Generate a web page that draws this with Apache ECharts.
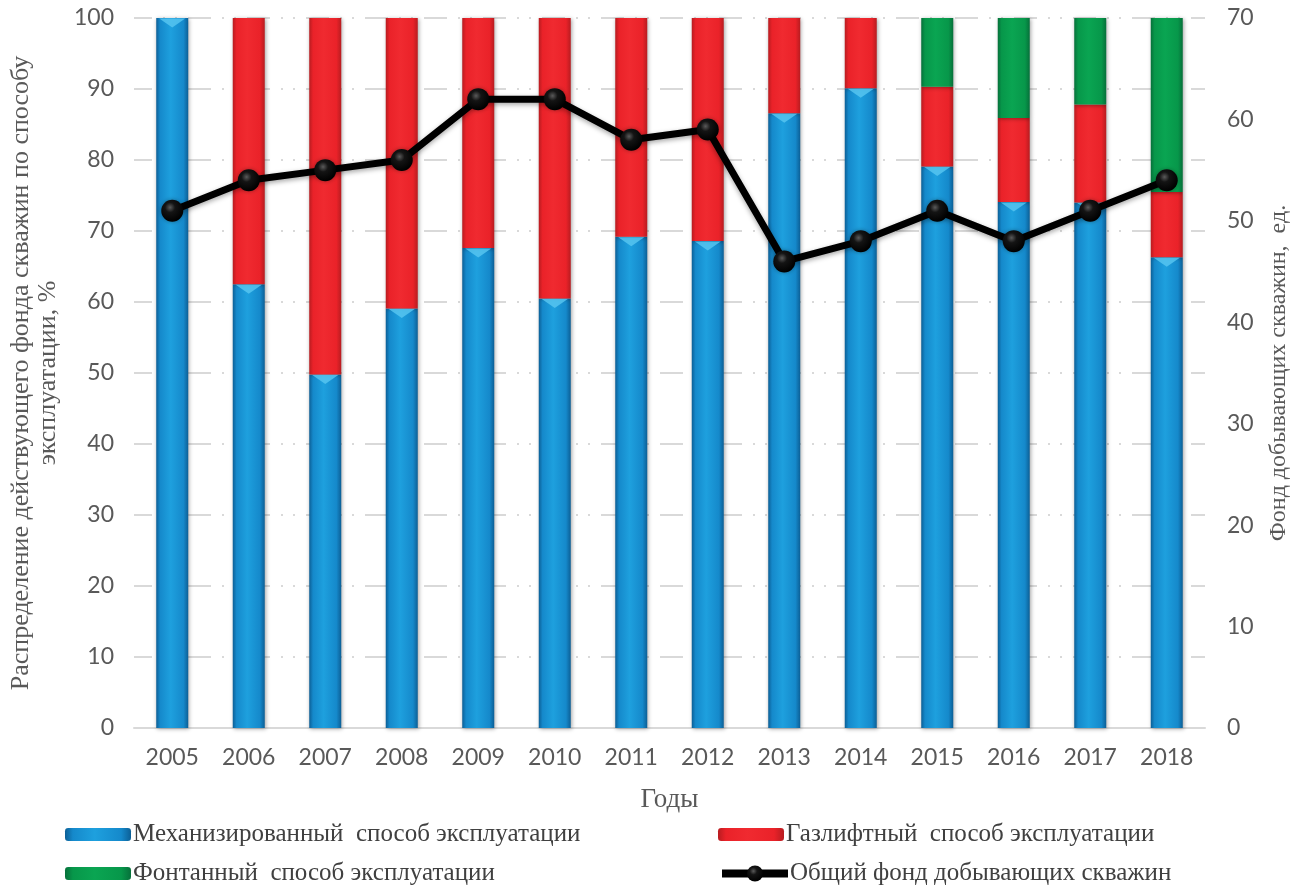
<!DOCTYPE html>
<html>
<head>
<meta charset="utf-8">
<script src="https://cdn.jsdelivr.net/npm/echarts@6/dist/echarts.min.js"></script>
<style>
  html, body { margin: 0; padding: 0; background: #ffffff; }
  #chart { width: 1301px; height: 890px; }
</style>
</head>
<body>
<div id="chart"></div>
<script>
// Years on the category axis
const years = ['2005','2006','2007','2008','2009','2010','2011','2012','2013','2014','2015','2016','2017','2018'];

// Share of the active well stock by production method, %
const mechanized = [100, 62.5, 49.8, 59.1, 67.6, 60.5, 69.2, 68.6, 86.6, 90.1, 79.1, 74.1, 74.0, 66.3];
const gasLift    = [0, 37.5, 50.2, 40.9, 32.4, 39.5, 30.8, 31.4, 13.4, 9.9, 11.2, 11.8, 13.8, 9.2];
const flowing    = [0, 0, 0, 0, 0, 0, 0, 0, 0, 0, 9.7, 14.1, 12.2, 24.5];

// Total producing well stock, units
const totalWells = [51, 54, 55, 56, 62, 62, 58, 59, 46, 48, 51, 48, 51, 54];

// Axis tick values
const leftTicks = { min: 0, max: 100, interval: 10 };
const rightTicks = { min: 0, max: 70, interval: 10 };

const names = {
  mech: 'Механизированный  способ эксплуатации',
  gas: 'Газлифтный  способ эксплуатации',
  flow: 'Фонтанный  способ эксплуатации',
  total: 'Общий фонд добывающих скважин'
};

// Bevelled bar fill: darker edges, lighter centre
function bevel(edge, mid, light) {
  return new echarts.graphic.LinearGradient(0, 0, 1, 0, [
    { offset: 0, color: edge },
    { offset: 0.12, color: mid },
    { offset: 0.45, color: light },
    { offset: 0.85, color: mid },
    { offset: 1, color: edge }
  ]);
}
const blueFill = bevel('#0c5f96', '#1589cb', '#1ea0de');
const redFill = bevel('#b81c20', '#ea2229', '#f02a30');
const greenFill = bevel('#06703a', '#07974a', '#0aa552');

const barShadow = {
  shadowColor: 'rgba(0,0,0,0.35)',
  shadowBlur: 4,
  shadowOffsetX: 1,
  shadowOffsetY: 1
};

const tickFont = { fontFamily: 'Lato', fontSize: 23, color: '#595959' };
const serif = 'Liberation Serif';
const legendFont = { fontFamily: serif, fontSize: 25, color: '#404040' };

const chart = echarts.init(document.getElementById('chart'), null, { renderer: 'canvas' });

function legendAt(name, left, top, w, h) {
  return {
    data: [name], left: left, top: top, itemWidth: w, itemHeight: h,
    itemGap: 0, padding: 0, textStyle: Object.assign({ padding: [0, 0, 0, -3] }, legendFont),
    lineStyle: { width: 8 },
    selectedMode: false
  };
}

chart.setOption({
  animation: false,
  backgroundColor: '#ffffff',
  grid: { left: 131, right: 96, top: 18, bottom: 162 },
  legend: [
    legendAt(names.mech, 65, 822, 66, 13),
    legendAt(names.gas, 718, 822, 66, 13),
    legendAt(names.flow, 65, 861, 66, 13),
    legendAt(names.total, 718, 861, 66, 20)
  ],
  xAxis: {
    type: 'category',
    data: years,
    name: 'Годы',
    nameLocation: 'middle',
    nameGap: 58,
    nameTextStyle: { fontFamily: serif, fontSize: 27, color: '#595959' },
    axisLine: { lineStyle: { color: '#d9d9d9', width: 2 } },
    axisTick: { show: false },
    axisLabel: Object.assign({ margin: 18 }, tickFont)
  },
  yAxis: [
    {
      type: 'value',
      min: leftTicks.min, max: leftTicks.max, interval: leftTicks.interval,
      name: 'Распределение действующего фонда скважин по способу\nэксплуатации, %',
      nameLocation: 'middle',
      nameGap: 72,
      nameTextStyle: { fontFamily: serif, fontSize: 26, color: '#595959', lineHeight: 27 },
      axisLine: { show: false },
      axisTick: { show: false },
      axisLabel: Object.assign({ margin: 20 }, tickFont),
      splitLine: {
        lineStyle: { color: '#d9d9d9', width: 2, type: [23, 11, 2, 10, 2, 11], dashOffset: 5 }
      }
    },
    {
      type: 'value',
      min: rightTicks.min, max: rightTicks.max, interval: rightTicks.interval,
      name: 'Фонд добывающих скважин,  ед.',
      nameLocation: 'middle',
      nameGap: 62,
      nameTextStyle: { fontFamily: serif, fontSize: 24, color: '#595959' },
      axisLine: { show: false },
      axisTick: { show: false },
      axisLabel: Object.assign({ margin: 22 }, tickFont),
      splitLine: { show: false }
    }
  ],
  series: [
    {
      name: names.mech, type: 'bar', stack: 'share', barWidth: 32,
      data: mechanized,
      itemStyle: Object.assign({ color: blueFill }, barShadow)
    },
    {
      name: names.gas, type: 'bar', stack: 'share', barWidth: 32,
      data: gasLift,
      itemStyle: Object.assign({ color: redFill }, barShadow)
    },
    {
      name: names.flow, type: 'bar', stack: 'share', barWidth: 32,
      data: flowing,
      itemStyle: Object.assign({ color: greenFill }, barShadow)
    },
    {
      // light bevel chevron at the top of each mechanized segment
      name: 'bevel', type: 'scatter',
      data: mechanized,
      symbol: 'triangle', symbolRotate: 180, symbolSize: [26, 9], symbolOffset: [0, 5],
      itemStyle: { color: '#56c4f0', opacity: 0.85 },
      silent: true, z: 3
    },
    {
      name: names.total, type: 'line', yAxisIndex: 1,
      data: totalWells,
      symbol: 'circle', symbolSize: 22,
      lineStyle: { color: '#000000', width: 7, shadowColor: 'rgba(0,0,0,0.35)', shadowBlur: 5, shadowOffsetY: 2 },
      itemStyle: {
        color: new echarts.graphic.RadialGradient(0.4, 0.35, 0.65, [
          { offset: 0, color: '#5a5a5a' },
          { offset: 0.35, color: '#141414' },
          { offset: 1, color: '#000000' }
        ]),
        borderWidth: 0,
        shadowColor: 'rgba(0,0,0,0.35)', shadowBlur: 4
      },
      z: 5
    }
  ]
});
</script>
</body>
</html>
